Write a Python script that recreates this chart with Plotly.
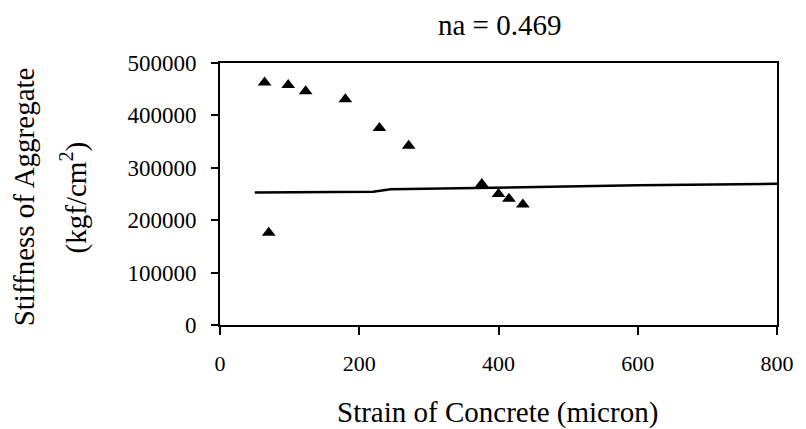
import plotly.graph_objects as go

# Measured data (triangles)
strain = [64, 70, 98, 123, 180, 229, 271, 376, 400, 415, 435]
stiffness = [463000, 176000, 458000, 446000, 431000, 376000, 342000, 269000, 250000, 241000, 230000]

# Fitted curve
fit_strain = [50, 220, 245, 400, 600, 800]
fit_stiffness = [253000, 254500, 259000, 262500, 266500, 269500]

x_ticks = [0, 200, 400, 600, 800]
y_ticks = [0, 100000, 200000, 300000, 400000, 500000]

title_text = "na = 0.469"
x_title = "Strain of Concrete (micron)"
y_title_1 = "Stiffness of Aggregate"
y_title_2 = "(kgf/cm<sup>2</sup>)"

FONT = "Liberation Serif"

fig = go.Figure()
fig.add_trace(go.Scatter(
    x=fit_strain, y=fit_stiffness, mode="lines",
    line=dict(color="black", width=2.5), showlegend=False, hoverinfo="skip"))
fig.add_trace(go.Scatter(
    x=strain, y=stiffness, mode="markers",
    marker=dict(symbol="triangle-up", size=12, color="black"),
    showlegend=False))

L, R, T, B = 219.5, 18.5, 63, 104
W, H = 806, 429
pw = W - L - R
ph = H - T - B

fig.update_layout(
    width=W, height=H,
    margin=dict(l=L, r=R, t=T, b=B, pad=0),
    paper_bgcolor="white", plot_bgcolor="white",
    font=dict(family=FONT, color="black", size=22),
    xaxis=dict(range=[0, 800], tickvals=x_ticks, ticks="outside", ticklen=8,
               tickwidth=1.5, tickcolor="black", showline=True, linewidth=2,
               linecolor="black", mirror=True, showgrid=False, zeroline=False,
               ticklabelstandoff=10, tickformat="d",
               tickfont=dict(family=FONT, size=22)),
    yaxis=dict(range=[0, 500000], tickvals=y_ticks, ticks="outside", ticklen=7,
               tickwidth=1.5, tickcolor="black", showline=True, linewidth=2,
               linecolor="black", mirror=True, showgrid=False, zeroline=False,
               ticklabelstandoff=10, tickformat="d",
               tickfont=dict(family=FONT, size=23)),
    annotations=[
        dict(text=title_text, xref="paper", yref="paper",
             x=(505 - L) / pw, y=(H - B - 25) / ph, xanchor="center", yanchor="middle",
             showarrow=False, font=dict(family=FONT, size=29)),
        dict(text=x_title, xref="paper", yref="paper",
             x=(502 - L) / pw, y=(H - B - 412) / ph, xanchor="center", yanchor="middle",
             showarrow=False, font=dict(family=FONT, size=29)),
        dict(text=y_title_1, xref="paper", yref="paper", textangle=-90,
             x=(20 - L) / pw, y=(H - B - 197) / ph, xanchor="center", yanchor="middle",
             showarrow=False, font=dict(family=FONT, size=29)),
        dict(text=y_title_2, xref="paper", yref="paper", textangle=-90,
             x=(70 - L) / pw, y=(H - B - 197) / ph, xanchor="center", yanchor="middle",
             showarrow=False, font=dict(family=FONT, size=29)),
    ],
)

fig.write_html("out.html")
